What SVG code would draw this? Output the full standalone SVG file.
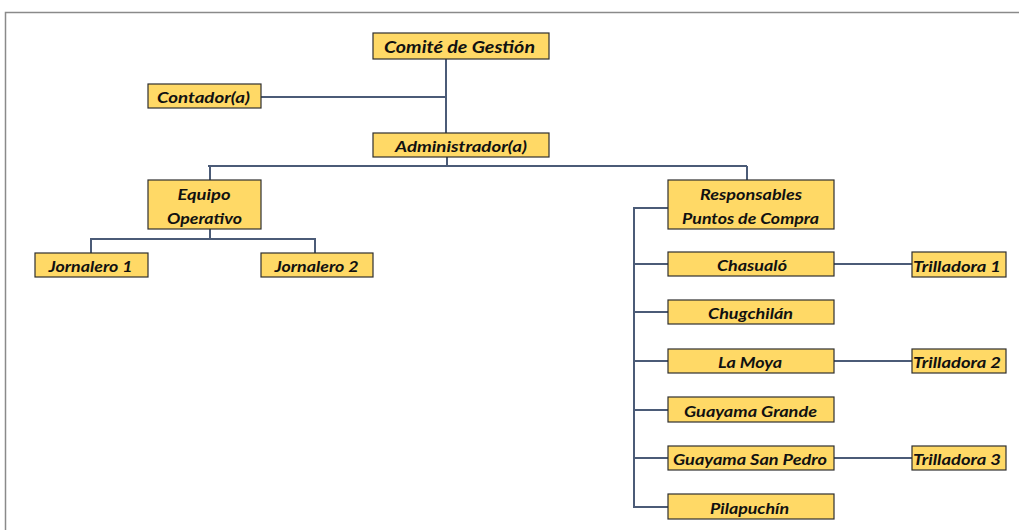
<svg xmlns="http://www.w3.org/2000/svg" width="1019" height="530" viewBox="0 0 1019 530">
<style>
.n rect{fill:#FFD966;stroke:#2f2f2f;stroke-width:1.2}
.n text{font-family:Lato,"Open Sans",sans-serif;font-weight:bold;font-style:italic;font-size:16px;fill:#111;text-anchor:middle;dominant-baseline:central}
.c path{fill:none;stroke:#4B5B77;stroke-width:2}
</style>
<rect x="0" y="0" width="1019" height="530" fill="#fff"/>
<path d="M5.5 530 V12.5 H1019" fill="none" stroke="#8a8a8a" stroke-width="1.5"/>
<g class="c">
<path d="M446 59 V133"/>
<path d="M261 97 H446"/>
<path d="M447 157 V166"/>
<path d="M208 166 H747"/>
<path d="M210 166 V180"/>
<path d="M747 166 V180"/>
<path d="M210 229 V239"/>
<path d="M91 253 V239 H315 V253"/>
<path d="M668 208 H634 V507 H668"/>
<path d="M634 264 H668"/>
<path d="M634 312 H668"/>
<path d="M634 361 H668"/>
<path d="M634 410 H668"/>
<path d="M634 458 H668"/>
<path d="M834 264 H912"/>
<path d="M834 361 H912"/>
<path d="M834 458 H912"/>
</g>
<g class="n" id="comite"><rect x="373" y="33" width="176" height="26"/><text x="459.5" y="46.5" style="font-size:17.5px" textLength="151" lengthAdjust="spacingAndGlyphs">Comité de Gestión</text></g>
<g class="n" id="contador"><rect x="148" y="84" width="113" height="24"/><text x="203.5" y="96.5" textLength="93" lengthAdjust="spacingAndGlyphs">Contador(a)</text></g>
<g class="n" id="admin"><rect x="373" y="133" width="176" height="24"/><text x="461" y="145.5" textLength="132" lengthAdjust="spacingAndGlyphs">Administrador(a)</text></g>
<g class="n" id="equipo"><rect x="148" y="180" width="113" height="49"/><text x="204" y="193" textLength="53" lengthAdjust="spacingAndGlyphs">Equipo</text><text x="204.5" y="217" textLength="75" lengthAdjust="spacingAndGlyphs">Operativo</text></g>
<g class="n" id="jornalero1"><rect x="35" y="253" width="113" height="24"/><text x="90.5" y="265.5" textLength="84" lengthAdjust="spacingAndGlyphs">Jornalero 1</text></g>
<g class="n" id="jornalero2"><rect x="261" y="253" width="112" height="24"/><text x="316.5" y="265.5" textLength="84" lengthAdjust="spacingAndGlyphs">Jornalero 2</text></g>
<g class="n" id="responsables"><rect x="668" y="180" width="166" height="49"/><text x="751" y="193" textLength="102" lengthAdjust="spacingAndGlyphs">Responsables</text><text x="750.5" y="217" textLength="137" lengthAdjust="spacingAndGlyphs">Puntos de Compra</text></g>
<g class="n" id="chasualo"><rect x="668" y="252" width="166" height="24"/><text x="752" y="264.5" textLength="70" lengthAdjust="spacingAndGlyphs">Chasualó</text></g>
<g class="n" id="chugchilan"><rect x="668" y="300" width="166" height="24"/><text x="750.5" y="312.5" textLength="85" lengthAdjust="spacingAndGlyphs">Chugchilán</text></g>
<g class="n" id="lamoya"><rect x="668" y="349" width="166" height="24"/><text x="750" y="361.5" textLength="64" lengthAdjust="spacingAndGlyphs">La Moya</text></g>
<g class="n" id="guayamagrande"><rect x="668" y="397" width="166" height="25"/><text x="750.5" y="410" textLength="133" lengthAdjust="spacingAndGlyphs">Guayama Grande</text></g>
<g class="n" id="guayamasanpedro"><rect x="668" y="446" width="166" height="24"/><text x="750" y="458.5" textLength="154" lengthAdjust="spacingAndGlyphs">Guayama San Pedro</text></g>
<g class="n" id="pilapuchin"><rect x="668" y="494" width="166" height="25"/><text x="749.5" y="507" textLength="79" lengthAdjust="spacingAndGlyphs">Pilapuchín</text></g>
<g class="n" id="trilladora1"><rect x="912" y="252" width="94" height="25"/><text x="957" y="265" textLength="88" lengthAdjust="spacingAndGlyphs">Trilladora 1</text></g>
<g class="n" id="trilladora2"><rect x="912" y="349" width="94" height="24"/><text x="957" y="361.5" textLength="88" lengthAdjust="spacingAndGlyphs">Trilladora 2</text></g>
<g class="n" id="trilladora3"><rect x="912" y="446" width="94" height="24"/><text x="957" y="458.5" textLength="88" lengthAdjust="spacingAndGlyphs">Trilladora 3</text></g>
</svg>
